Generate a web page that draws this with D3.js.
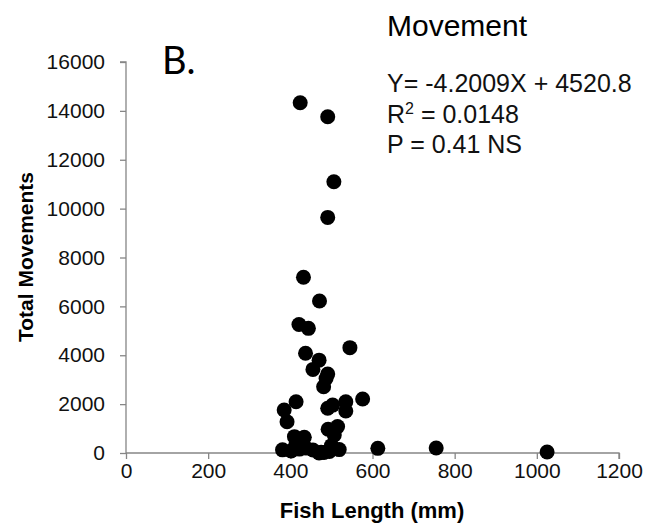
<!DOCTYPE html>
<html>
<head>
<meta charset="utf-8">
<script src="https://cdn.jsdelivr.net/npm/d3@7"></script>
<style>
  body { margin: 0; background: #fff; }
  text { font-family: Arial, "Liberation Sans", sans-serif; }
</style>
</head>
<body>
<div id="canvas"></div>
<script>
"use strict";

let svgWidth = 654;
let svgHeight = 526;

// fish length (mm) and total movements
let fishLength = [424, 491, 506, 491, 432, 471, 421, 444, 545, 437,
  470, 455, 491, 487, 481, 576, 414, 385, 503, 535,
  491, 535, 392, 515, 492, 507, 410, 434, 381, 402,
  422, 438, 455, 475, 495, 519, 470, 482, 414, 500,
  613, 755, 1025];
let totalMovements = [14330, 13760, 11100, 9640, 7190, 6220, 5260, 5100, 4310, 4080,
  3800, 3420, 3230, 3050, 2710, 2210, 2100, 1760, 1960, 2100,
  1830, 1720, 1280, 1080, 970, 740, 670, 640, 130, 80,
  160, 200, 120, 30, 60, 140, 0, 20, 400, 300,
  190, 205, 40];

let xTicks = [0, 200, 400, 600, 800, 1000, 1200];
let yTicks = [0, 2000, 4000, 6000, 8000, 10000, 12000, 14000, 16000];

let statLines = ["Y= -4.2009X + 4520.8", "R2 = 0.0148", "P = 0.41 NS"];

let points = fishLength.map(function(d, i) {
  return { len: d, moves: totalMovements[i] };
});

let svg = d3.select("#canvas")
  .append("svg")
  .attr("width", svgWidth)
  .attr("height", svgHeight);

let xScale = d3.scaleLinear()
  .domain([0, 1200])
  .range([126, 619]);

let yScale = d3.scaleLinear()
  .domain([0, 16000])
  .range([453, 62]);

let axisColor = "#868686";

// x axis
let xAxis = svg.append("g")
  .attr("transform", "translate(0," + yScale(0) + ")")
  .call(d3.axisBottom(xScale).tickValues(xTicks).tickFormat(d3.format("d"))
    .tickSize(6).tickPadding(4));
// y axis
let yAxis = svg.append("g")
  .attr("transform", "translate(" + xScale(0) + ",0)")
  .call(d3.axisLeft(yScale).tickValues(yTicks).tickFormat(d3.format("d"))
    .tickSize(6).tickPadding(15));

[xAxis, yAxis].forEach(function(ax) {
  ax.select(".domain").attr("stroke", axisColor).attr("stroke-width", 1.3);
  ax.selectAll(".tick line").attr("stroke", axisColor).attr("stroke-width", 1.3);
  ax.selectAll(".tick text")
    .attr("fill", "#111")
    .style("font-size", "21px")
    .style("font-family", "Arial, 'Liberation Sans', sans-serif");
});
// Excel style: the axes stop at the outer ticks, no outer end caps
xAxis.select(".domain").attr("d", "M" + xScale(0) + ",0H" + xScale(1200) + "V6");
yAxis.select(".domain").attr("d", "M-6," + yScale(16000) + "H0V" + yScale(0));

// points
svg.selectAll("circle.pt")
  .data(points)
  .enter()
  .append("circle")
  .attr("class", "pt")
  .attr("cx", function(d) { return xScale(d.len); })
  .attr("cy", function(d) { return yScale(d.moves); })
  .attr("r", 7.5)
  .attr("fill", "#000");

// title
svg.append("text")
  .attr("x", 457)
  .attr("y", 36)
  .attr("text-anchor", "middle")
  .style("font-size", "30px")
  .text("Movement");

// panel letter
svg.append("text")
  .attr("x", 162)
  .attr("y", 74)
  .style("font-family", "Lato, 'Open Sans', sans-serif")
  .style("font-size", "38px")
  .text("B.");

// regression stats
let statText = svg.append("g");
statLines.forEach(function(s, i) {
  let t = statText.append("text")
    .attr("x", 387)
    .attr("y", 92 + i * 30.5)
    .style("font-size", "25px")
    .attr("fill", "#111");
  if (i === 1) {
    t.append("tspan").text("R");
    t.append("tspan").attr("dy", -9).style("font-size", "16px").text("2");
    t.append("tspan").attr("dy", 9).text(" = 0.0148");
  } else {
    t.text(s);
  }
});

// axis labels
svg.append("text")
  .attr("x", 372)
  .attr("y", 518)
  .attr("text-anchor", "middle")
  .style("font-size", "22px")
  .style("font-weight", "bold")
  .text("Fish Length (mm)");

svg.append("text")
  .attr("transform", "translate(33," + 257 + ") rotate(-90)")
  .attr("text-anchor", "middle")
  .style("font-size", "21px")
  .style("font-weight", "bold")
  .text("Total Movements");
</script>
</body>
</html>
